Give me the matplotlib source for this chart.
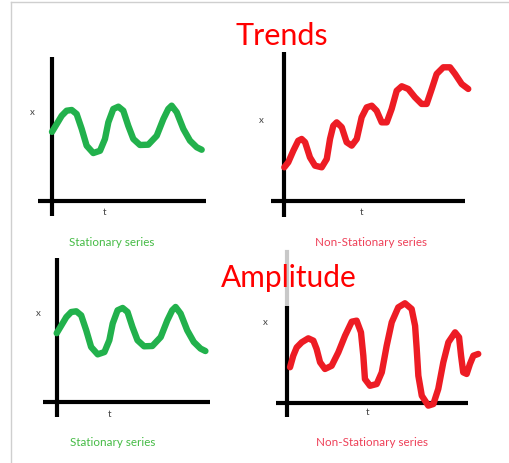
import matplotlib
matplotlib.use("Agg")
import matplotlib.pyplot as plt
from matplotlib.lines import Line2D

W, H = 510, 464

# hand-drawn sketch, values (t and x on a 0-10 scale)
stat_t = [0.0, 0.31, 0.63, 0.95, 1.28, 1.60, 1.93, 2.25, 2.68, 3.12, 3.44, 3.66,
          3.98, 4.31, 4.63, 4.95, 5.28, 5.71, 6.25, 6.80, 7.23, 7.55, 7.77, 8.10,
          8.53, 8.96, 9.40, 9.72]
stat_x = [4.8, 5.35, 5.92, 6.27, 6.32, 6.04, 5.0, 3.84, 3.33, 3.49, 4.31, 5.47,
          6.39, 6.55, 6.27, 5.23, 4.31, 3.89, 3.91, 4.53, 5.69, 6.39, 6.62, 6.16,
          5.0, 4.19, 3.73, 3.56]

trend_t = [0.0, 0.22, 0.50, 0.77, 0.96, 1.15, 1.42, 1.70, 2.07, 2.35, 2.53, 2.71,
           2.90, 3.18, 3.45, 3.73, 4.01, 4.28, 4.56, 4.84, 5.11, 5.39, 5.67, 5.94,
           6.22, 6.50, 6.86, 7.23, 7.60, 7.88, 8.16, 8.43, 8.80, 9.17, 9.45, 9.82,
           10.18]
trend_x = [2.25, 2.59, 3.37, 4.04, 4.16, 3.94, 2.92, 2.36, 2.25, 2.81, 4.16, 5.05,
           5.28, 4.95, 3.94, 3.71, 4.16, 5.62, 6.29, 6.40, 6.06, 5.28, 5.28, 6.18,
           7.41, 7.71, 7.53, 6.97, 6.52, 6.52, 7.53, 8.54, 8.99, 8.99, 8.54, 7.86,
           7.53]

amp_t = [0.15, 0.33, 0.52, 0.80, 1.16, 1.44, 1.62, 1.81, 2.08, 2.45, 2.82, 3.19,
         3.56, 3.83, 4.07, 4.20, 4.29, 4.57, 4.94, 5.22, 5.49, 5.77, 6.13, 6.50,
         6.87, 7.06, 7.15, 7.24, 7.43, 7.79, 8.07, 8.34, 8.62, 8.90, 9.27, 9.49,
         9.60, 9.72, 9.91, 10.09, 10.28, 10.55]
amp_x = [2.45, 3.24, 3.81, 4.16, 4.43, 4.27, 3.70, 2.79, 2.33, 2.55, 3.47, 4.61,
         5.57, 5.64, 4.84, 3.24, 1.64, 1.18, 1.30, 2.10, 3.92, 5.53, 6.55, 6.83,
         6.44, 5.29, 3.70, 1.87, 0.50, -0.18, -0.07, 0.96, 2.79, 4.16, 4.84, 4.50,
         3.24, 2.10, 1.99, 2.67, 3.24, 3.36]

GREEN, RED = "#22b14c", "#ed1c24"
FONT = "Lato"

fig = plt.figure(figsize=(W / 100, H / 100), dpi=100)
fig.patch.set_facecolor("white")

# light grey frame (top and left edges only)
fig.add_artist(Line2D([11 / W, 1], [1 - 3 / H, 1 - 3 / H], color="#cfcfcf", lw=1))
fig.add_artist(Line2D([11 / W, 11 / W], [0, 1 - 3 / H], color="#cfcfcf", lw=1))


def panel(ox, oy, sx, sy, xb, yb):
    x0, x1, y0, y1 = -1.6, 11.0, -1.6, 11.0
    rect = [(ox + x0 * sx) / W, (H - (oy - y0 * sy)) / H,
            (x1 - x0) * sx / W, (y1 - y0) * sy / H]
    ax = fig.add_axes(rect)
    ax.set_xlim(x0, x1)
    ax.set_ylim(y0, y1)
    ax.patch.set_visible(False)
    for s in ("top", "right"):
        ax.spines[s].set_visible(False)
    ax.spines["left"].set_position(("data", 0))
    ax.spines["bottom"].set_position(("data", 0))
    ax.spines["left"].set_bounds(*yb)
    ax.spines["bottom"].set_bounds(*xb)
    for s in ("left", "bottom"):
        ax.spines[s].set_linewidth(3)
        ax.spines[s].set_capstyle("butt")
    ax.set_xticks([])
    ax.set_yticks([])
    return ax


def curve(ax, t, x, col):
    ax.plot(t, x, color=col, lw=4.6, solid_capstyle="round",
            solid_joinstyle="round", zorder=3)


def letters(ax, xpos, tpos):
    ax.text(*xpos, "x", fontsize=7, color="#444444", ha="center", va="center",
            family=FONT)
    ax.text(*tpos, "t", fontsize=7, color="#444444", ha="center", va="center",
            family=FONT)


a1 = panel(52, 202, 15.4, 14.4, (-0.91, 10), (-1.04, 10))
curve(a1, stat_t, stat_x, GREEN)
letters(a1, (-1.3, 6.2), (3.44, -0.76))

a2 = panel(284.3, 201.7, 18.07, 14.84, (-0.74, 10), (-1.12, 10))
curve(a2, trend_t, trend_x, RED)
letters(a2, (-1.29, 5.44), (4.3, -0.7))

a3 = panel(56.7, 403.3, 15.3, 14.4, (-0.9, 10), (-1.02, 10))
curve(a3, stat_t, stat_x, GREEN)
letters(a3, (-1.22, 6.27), (3.48, -0.8))

a4 = panel(287.3, 404, 18.1, 14.6, (-0.64, 10), (-0.98, 6.66))
a4.axvline(0, ymin=(6.66 + 1.6) / 12.6, ymax=(10.34 + 1.6) / 12.6,
           color="#c8c8c8", lw=3, zorder=0)
curve(a4, amp_t, amp_x, RED)
letters(a4, (-1.23, 5.6), (4.46, -0.6))

# titles and captions
fig.text(281.5 / W, 1 - 45 / H, "Trends", color="#ff0000", fontsize=22,
         ha="center", va="baseline", family=FONT, zorder=5)
fig.text(288.5 / W, 1 - 287 / H, "Amplitude", color="#ff0000", fontsize=21.5,
         ha="center", va="baseline", family=FONT, zorder=5)
for cx, cy, txt, col in [(112, 243, "Stationary series", "#45bb45"),
                         (371, 243, "Non-Stationary series", "#ee4058"),
                         (113, 443, "Stationary series", "#45bb45"),
                         (372, 443, "Non-Stationary series", "#ee4058")]:
    fig.text(cx / W, 1 - cy / H, txt, color=col, fontsize=8.4, ha="center",
             va="center", family=FONT)

fig.savefig("out.png", dpi=100)
